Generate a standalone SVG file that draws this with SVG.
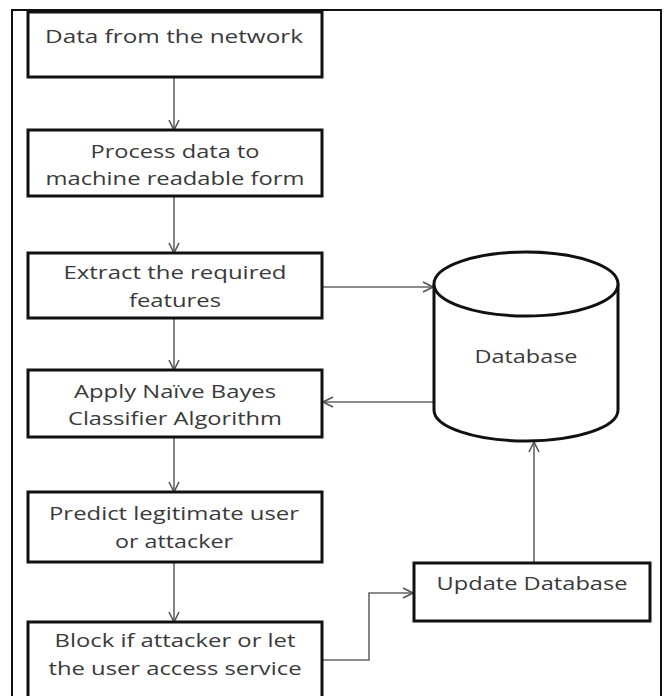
<svg xmlns="http://www.w3.org/2000/svg" width="667" height="696" viewBox="0 0 667 696">
<style>
.box{fill:#fff;stroke:#111;stroke-width:3}
.frame{fill:none;stroke:#111;stroke-width:2}
.t{font-family:"Open Sans","Liberation Sans",sans-serif;font-size:18px;fill:#3a3a3a;text-anchor:middle}
.c{fill:none;stroke:#666;stroke-width:1.6;marker-end:url(#ah)}
</style>
<defs>
<marker id="ah" viewBox="0 0 12 12" refX="11" refY="6" markerWidth="12" markerHeight="12" markerUnits="userSpaceOnUse" orient="auto">
<path d="M1,1 L11,6 L1,11" fill="none" stroke="#555" stroke-width="1.6"/>
</marker>
</defs>
<rect class="frame" x="12" y="10" width="649" height="700"/>
<g id="connectors">
<path class="c" d="M174,77 V130"/>
<path class="c" d="M174,196 V253"/>
<path class="c" d="M174,318 V370"/>
<path class="c" d="M174,437 V492"/>
<path class="c" d="M174,562 V622"/>
<path class="c" d="M322,287 H433"/>
<path class="c" d="M434,402 H323"/>
<path class="c" d="M322,660 H369 V593 H413"/>
<path class="c" d="M534,563 V442"/>
</g>
<g id="n1"><rect class="box" x="28" y="12" width="294" height="65"/>
<text class="t" x="174" y="43" textLength="258" lengthAdjust="spacingAndGlyphs">Data from the network</text></g>
<g id="n2"><rect class="box" x="28" y="130" width="294" height="66"/>
<text class="t" x="175" y="158" textLength="169" lengthAdjust="spacingAndGlyphs">Process data to</text>
<text class="t" x="175" y="185" textLength="259" lengthAdjust="spacingAndGlyphs">machine readable form</text></g>
<g id="n3"><rect class="box" x="28" y="253" width="294" height="65"/>
<text class="t" x="175" y="279" textLength="223" lengthAdjust="spacingAndGlyphs">Extract the required</text>
<text class="t" x="175" y="307" textLength="92" lengthAdjust="spacingAndGlyphs">features</text></g>
<g id="n4"><rect class="box" x="28" y="370" width="294" height="67"/>
<text class="t" x="175" y="398" textLength="202" lengthAdjust="spacingAndGlyphs">Apply Naïve Bayes</text>
<text class="t" x="175" y="425" textLength="214" lengthAdjust="spacingAndGlyphs">Classifier Algorithm</text></g>
<g id="n5"><rect class="box" x="28" y="492" width="294" height="70"/>
<text class="t" x="174" y="520" textLength="250" lengthAdjust="spacingAndGlyphs">Predict legitimate user</text>
<text class="t" x="174" y="548" textLength="118" lengthAdjust="spacingAndGlyphs">or attacker</text></g>
<g id="n6"><rect class="box" x="28" y="622" width="294" height="90"/>
<text class="t" x="175" y="647" textLength="241" lengthAdjust="spacingAndGlyphs">Block if attacker or let</text>
<text class="t" x="175" y="675" textLength="253" lengthAdjust="spacingAndGlyphs">the user access service</text></g>
<g id="db">
<path d="M434,284 V410 A92,31 0 0 0 618,410 V284" fill="#fff" stroke="#111" stroke-width="3"/>
<ellipse cx="526" cy="284" rx="92" ry="32" fill="#fff" stroke="#111" stroke-width="3"/>
<text class="t" x="526" y="363" textLength="103" lengthAdjust="spacingAndGlyphs">Database</text></g>
<g id="upd"><rect class="box" x="414" y="563" width="236" height="58"/>
<text class="t" x="532" y="590" textLength="191" lengthAdjust="spacingAndGlyphs">Update Database</text></g>
</svg>
